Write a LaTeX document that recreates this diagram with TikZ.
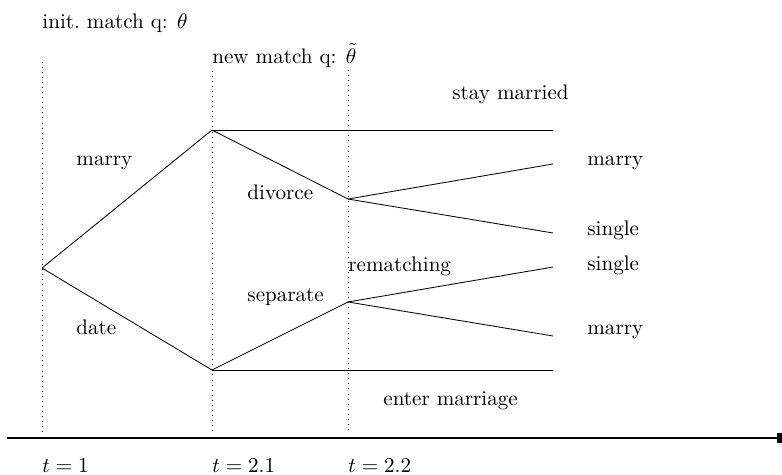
\documentclass[tikz,border=0pt]{standalone}
\usepackage{tikz}
\usetikzlibrary{arrows.meta, positioning}

\begin{document}
\begin{tikzpicture}[
  lbl/.style={anchor=base west, inner sep=0pt},
  period/.style={dotted},
  branch/.style={draw},
  axis/.style={thick, -{Rectangle[length=2.4pt, width=4.8pt]}}
]
  \useasboundingbox (0,0) rectangle (13.033,7.9);

  % time periods
  \coordinate (p1top) at (0.7,6.87);  \coordinate (p1bot) at (0.7,0.7);
  \coordinate (p2top) at (3.533,6.72); \coordinate (p2bot) at (3.533,0.7);
  \coordinate (p3top) at (5.8,6.74);  \coordinate (p3bot) at (5.8,0.7);
  \draw[period] (p1top) -- (p1bot);
  \draw[period] (p2top) -- (p2bot);
  \draw[period] (p3top) -- (p3bot);

  % decision points
  \coordinate (root) at (0.7,3.433);
  \coordinate (wed) at (3.533,5.733);
  \coordinate (court) at (3.533,1.733);
  \coordinate (div) at (5.8,4.583);
  \coordinate (sep) at (5.8,2.867);

  % outcomes
  \coordinate (stay) at (9.217,5.733);
  \coordinate (divmarry) at (9.217,5.167);
  \coordinate (divsingle) at (9.217,4.017);
  \coordinate (sepsingle) at (9.217,3.45);
  \coordinate (sepmarry) at (9.217,2.3);
  \coordinate (enter) at (9.217,1.733);

  \draw[branch] (root) -- (wed);
  \draw[branch] (root) -- (court);
  \draw[branch] (wed) -- (stay);
  \draw[branch] (wed) -- (div);
  \draw[branch] (div) -- (divmarry);
  \draw[branch] (div) -- (divsingle);
  \draw[branch] (court) -- (sep);
  \draw[branch] (sep) -- (sepsingle);
  \draw[branch] (sep) -- (sepmarry);
  \draw[branch] (court) -- (enter);

  % labels
  \node[lbl] (initq) at (0.7,7.417) {init.\ match q: $\theta$};
  \node[lbl] (newq) at (3.533,6.85) {new match q: $\tilde{\theta}$};
  \node[lbl] (staylbl) at (7.533,6.25) {stay married};
  \node[lbl] (marrylbl) at (1.267,5.15) {marry};
  \node[lbl] (datelbl) at (1.267,2.317) {date};
  \node[lbl] (divlbl) at (4.117,4.567) {divorce};
  \node[lbl] (seplbl) at (4.117,2.867) {separate};
  \node[lbl] (rematch) at (5.8,3.383) {rematching};
  \node[lbl] (o1) at (9.783,5.15) {marry};
  \node[lbl] (o2) at (9.783,3.967) {single};
  \node[lbl] (o3) at (9.783,3.4) {single};
  \node[lbl] (o4) at (9.783,2.317) {marry};
  \node[lbl] (enterlbl) at (6.383,1.15) {enter marriage};

  % time axis
  \coordinate (axstart) at (0.12,0.6);
  \coordinate (axend) at (13.033,0.6);
  \draw[axis] (axstart) -- (axend);
  \node[lbl] (t1) at (0.7,0.03) {$t=1$};
  \node[lbl] (t2) at (3.533,0.03) {$t=2.1$};
  \node[lbl] (t3) at (5.8,0.03) {$t=2.2$};
\end{tikzpicture}
\end{document}
